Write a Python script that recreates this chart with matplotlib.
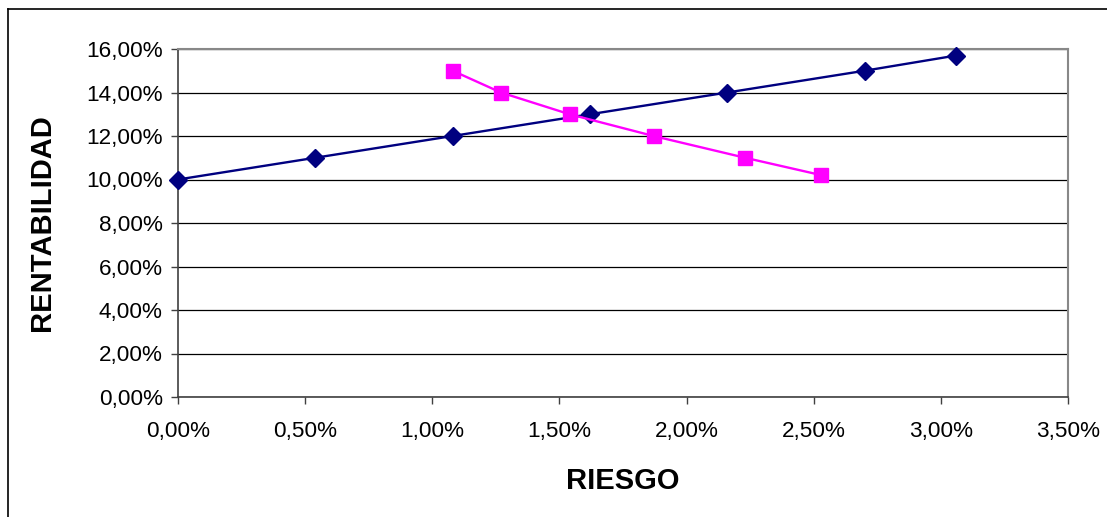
import matplotlib
matplotlib.use("Agg")
import matplotlib.pyplot as plt
from matplotlib.lines import Line2D
from matplotlib.ticker import FuncFormatter, MultipleLocator

plt.rcParams['font.family'] = ['Liberation Sans', 'DejaVu Sans']

# Risk (%) and return (%) for the two portfolio frontiers
riesgo_a = [0.00, 0.54, 1.08, 1.62, 2.16, 2.70, 3.06]
rentab_a = [10.0, 11.0, 12.0, 13.0, 14.0, 15.0, 15.7]

riesgo_b = [1.08, 1.27, 1.54, 1.87, 2.23, 2.53]
rentab_b = [15.0, 14.0, 13.0, 12.0, 11.0, 10.2]

x_label = "RIESGO"
y_label = "RENTABILIDAD"

W, H = 1107, 517
fig = plt.figure(figsize=(W / 100, H / 100), dpi=100)
fig.patch.set_facecolor('white')

ax = fig.add_axes([178 / W, 1 - 397 / H, (1068 - 178) / W, (397 - 49) / H])

ax.plot(riesgo_a, rentab_a, color='#000080', lw=1.7, marker='D',
        markersize=9.5, markerfacecolor='#000080', markeredgecolor='#000080',
        zorder=3, clip_on=False)
ax.plot(riesgo_b, rentab_b, color='#FF00FF', lw=1.7, marker='s',
        markersize=10, markerfacecolor='#FF00FF', markeredgecolor='#FF00FF',
        zorder=4, clip_on=False)

ax.set_xlim(0, 3.5)
ax.set_ylim(0, 16)
ax.xaxis.set_major_locator(MultipleLocator(0.5))
ax.yaxis.set_major_locator(MultipleLocator(2))

fmt = FuncFormatter(lambda v, p: f"{v:.2f}".replace('.', ',') + '%')
ax.xaxis.set_major_formatter(fmt)
ax.yaxis.set_major_formatter(fmt)

ax.grid(axis='y', color='black', lw=0.9)
ax.set_axisbelow(True)

for s in ('left', 'bottom'):
    ax.spines[s].set_color('#404040')
    ax.spines[s].set_linewidth(1.2)
for s in ('right', 'top'):
    ax.spines[s].set_color('#888888')
    ax.spines[s].set_linewidth(1.5)

ax.tick_params(axis='both', direction='out', length=5, width=1,
               color='#404040', labelsize=16.2, labelcolor='black')
ax.tick_params(axis='x', pad=12)
ax.tick_params(axis='y', pad=6)

ax.set_xlabel(x_label, fontsize=21, fontweight='bold', labelpad=18)
ax.set_ylabel(y_label, fontsize=21, fontweight='bold', labelpad=22)

# outer chart frame (top and left edges)
fig.add_artist(Line2D([8 / W, 1], [1 - 9 / H, 1 - 9 / H], transform=fig.transFigure,
                      color='black', lw=1.2))
fig.add_artist(Line2D([8 / W, 8 / W], [0, 1 - 9 / H], transform=fig.transFigure,
                      color='black', lw=1.2))

fig.savefig("out.png", dpi=100)
